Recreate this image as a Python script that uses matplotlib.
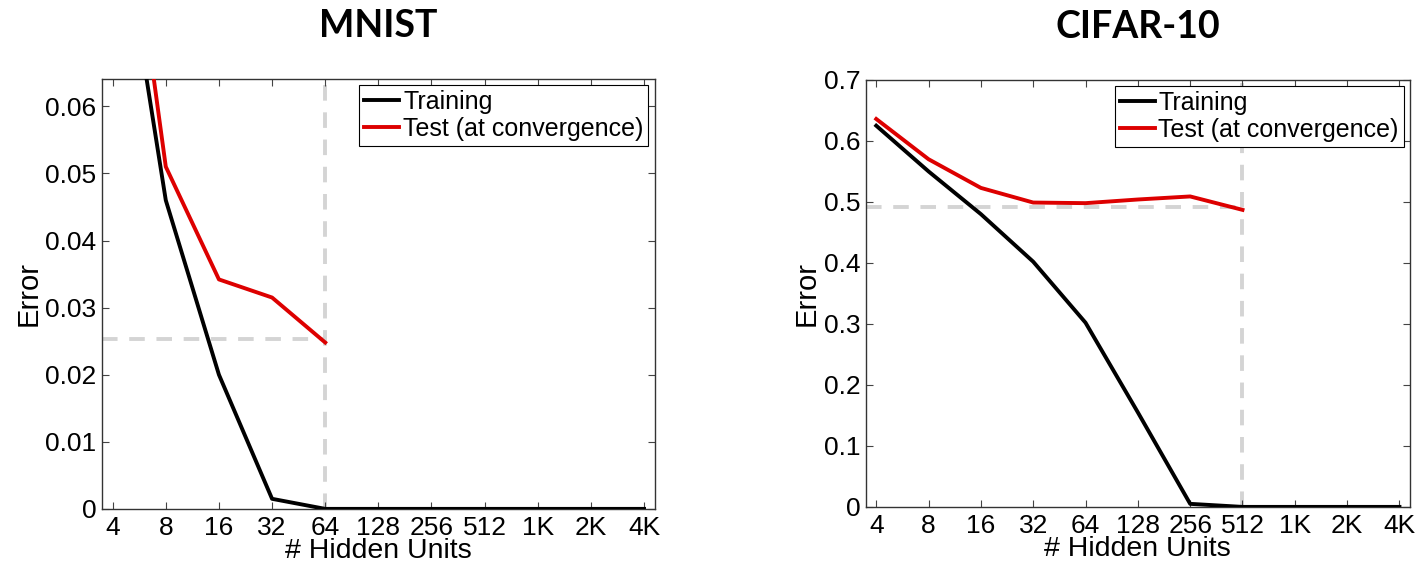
import matplotlib
matplotlib.use("Agg")
import matplotlib.pyplot as plt

plt.rcParams['font.family'] = ['Liberation Sans', 'DejaVu Sans']

hidden_units = ['4', '8', '16', '32', '64', '128', '256', '512', '1K', '2K', '4K']

# MNIST
mnist_train = [0.096, 0.046, 0.020, 0.0015, 0.0, 0.0, 0.0, 0.0, 0.0, 0.0, 0.0]
mnist_test = [0.109, 0.051, 0.0342, 0.0315, 0.0248]
mnist_ref_err = 0.0253
mnist_ref_idx = 4  # 64 units

# CIFAR-10
cifar_train = [0.625, 0.55, 0.48, 0.402, 0.302, 0.155, 0.005, 0.0, 0.0, 0.0, 0.0]
cifar_test = [0.636, 0.570, 0.523, 0.499, 0.498, 0.504, 0.509, 0.487]
cifar_ref_err = 0.492
cifar_ref_idx = 7  # 512 units

fig = plt.figure(figsize=(14.17, 5.67), dpi=100)
ax1 = fig.add_axes([0.072, 0.1025, 0.390, 0.7585])
ax2 = fig.add_axes([0.611, 0.106, 0.384, 0.753])

grey = '#d4d4d4'


def draw(ax, train, test, ref_err, ref_idx, ylim, yticks, ylabels, title):
    x = list(range(len(hidden_units)))
    ax.plot([-0.2, ref_idx], [ref_err, ref_err], color=grey, lw=2.8,
            linestyle=(0, (4, 3)), zorder=1)
    ax.axvline(ref_idx, color=grey, lw=2.8, linestyle=(0, (4, 3)), zorder=1)
    ax.plot(x, train, color='black', lw=2.8, label='Training', zorder=3)
    ax.plot(x[:len(test)], test, color='#dd0000', lw=2.8,
            label='Test (at convergence)', zorder=3)
    ax.set_xlim(-0.2, 10.2)
    ax.set_ylim(*ylim)
    ax.set_xticks(x)
    ax.set_xticklabels(hidden_units)
    ax.set_yticks(yticks)
    ax.set_yticklabels(ylabels)
    ax.tick_params(direction='in', top=True, right=True, labelsize=19,
                   length=5, width=0.8, color='#444444', pad=4)
    ax.tick_params(axis='x', pad=5)
    for s in ax.spines.values():
        s.set_linewidth(1.0)
        s.set_color('#333333')
    ax.set_xlabel('# Hidden Units', fontsize=20.5, labelpad=-1)
    ax.set_ylabel('Error', fontsize=21, labelpad=2)
    ax.set_title(title, fontsize=27, fontweight='bold', family='Lato', pad=30)
    leg = ax.legend(loc='upper right', fontsize=18, handlelength=1.4,
                    handletextpad=0.15, borderpad=0.2, labelspacing=0.12,
                    fancybox=False, framealpha=1, borderaxespad=0.25)
    leg.get_frame().set_edgecolor('black')
    leg.get_frame().set_linewidth(0.8)


draw(ax1, mnist_train, mnist_test, mnist_ref_err, mnist_ref_idx, (0, 0.0641),
     [0, 0.01, 0.02, 0.03, 0.04, 0.05, 0.06],
     ['0', '0.01', '0.02', '0.03', '0.04', '0.05', '0.06'], 'MNIST')
draw(ax2, cifar_train, cifar_test, cifar_ref_err, cifar_ref_idx, (0, 0.7),
     [0, 0.1, 0.2, 0.3, 0.4, 0.5, 0.6, 0.7],
     ['0', '0.1', '0.2', '0.3', '0.4', '0.5', '0.6', '0.7'], 'CIFAR-10')

fig.savefig('out.png', dpi=100)
